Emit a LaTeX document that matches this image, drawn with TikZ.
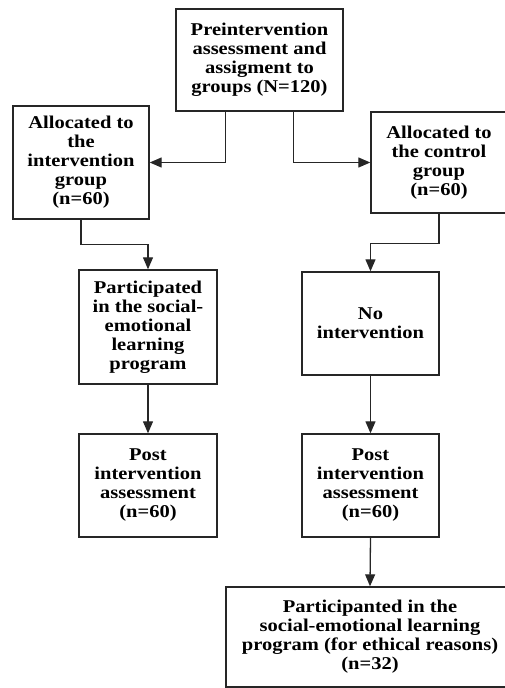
\documentclass[tikz,border=0pt]{standalone}
\usepackage{fontspec}
\setmainfont{Liberation Serif}[FakeStretch=1.14]
\usetikzlibrary{arrows.meta}
\tikzset{
  box/.style={draw=black!85, line width=1.4pt, align=center, inner sep=2pt,
    font=\fontsize{18}{19}\selectfont\bfseries},
  flow/.style={draw=black!85, line width=1.3pt, -{Triangle[length=12pt, width=10pt]}},
}
\begin{document}
\begin{tikzpicture}[x=1pt, y=-1pt]
    \clip (0,0) rectangle (505,688);
    \useasboundingbox (0,0) rectangle (505,688);

    % top
    \node[box, minimum width=167pt, minimum height=102pt] (pre) at (259.5,60)
        {Preintervention\\assessment and\\assigment to\\groups (N=120)};

    % groups
    \node[box, minimum width=136pt, minimum height=113pt] (allocI) at (81,162.5)
        {Allocated to\\the\\intervention\\group\\(n=60)};
    \node[box, minimum width=136pt, minimum height=101pt] (allocC) at (439,162.5)
        {Allocated to\\the control\\group\\(n=60)};

    % treatment
    \node[box, minimum width=138pt, minimum height=114pt] (part) at (148,327)
        {Participated\\in the social-\\emotional\\learning\\program};
    \node[box, minimum width=137pt, minimum height=103pt] (noint) at (370.5,323.5)
        {No\\intervention};

    % post
    \node[box, minimum width=138pt, minimum height=103pt] (postI) at (148,485.5)
        {Post\\intervention\\assessment\\(n=60)};
    \node[box, minimum width=137pt, minimum height=103pt] (postC) at (370.5,485.5)
        {Post\\intervention\\assessment\\(n=60)};

    \node[box, minimum width=288pt, minimum height=100pt] (final) at (370,637)
        {Participanted in the\\social-emotional learning\\program (for ethical reasons)\\(n=32)};

    % arrows
    \draw[flow] ([xshift=50pt]pre.south west) |- (allocI.east);
    \draw[flow] ([xshift=-50pt]pre.south east) |- (allocC.west);
    \draw[flow] (allocI.south) -- ++(0,25) -| (part.north);
    \draw[flow] (allocC.south) -- ++(0,30) -| (noint.north);
    \draw[flow] (part.south) -- (postI.north);
    \draw[flow] (noint.south) -- (postC.north);
    \draw[flow] (postC.south) -- (final.north);
\end{tikzpicture}
\end{document}
